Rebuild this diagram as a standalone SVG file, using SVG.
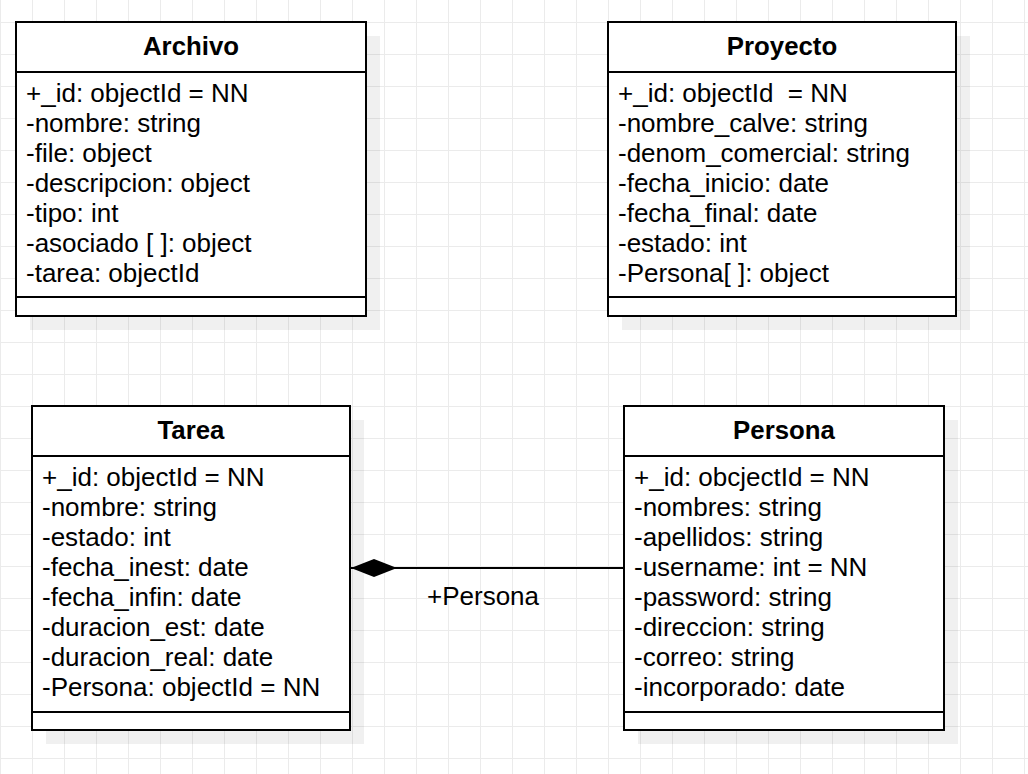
<svg xmlns="http://www.w3.org/2000/svg" width="1028" height="774" viewBox="0 0 1028 774">
<style>
.box{fill:#fff;stroke:#000;stroke-width:2}
.shadow{fill:#000;fill-opacity:0.06}
.div{stroke:#000;stroke-width:2;fill:none}
.title{font-family:"Liberation Sans",Arial,sans-serif;font-size:25.8px;font-weight:bold;text-anchor:middle;fill:#000}
.attr{font-family:"Liberation Sans",Arial,sans-serif;font-size:26px;fill:#000;white-space:pre}
.lbl{font-family:"Liberation Sans",Arial,sans-serif;font-size:26px;fill:#000}
.conn{stroke:#000;stroke-width:2;fill:none}
</style>
<defs>
<pattern id="grid" x="0" y="22" width="32" height="32" patternUnits="userSpaceOnUse">
<path d="M0.5 0V32M0 0.5H32" stroke="#ebebeb" stroke-width="1" fill="none"/>
</pattern>
<marker id="diamond" markerWidth="48" markerHeight="20" refX="47" refY="10" orient="auto" markerUnits="userSpaceOnUse">
<path d="M1 10L24 1L47 10L24 19Z" fill="#000"/>
</marker>
</defs>
<rect width="1028" height="774" fill="#fff"/>
<rect width="1028" height="774" fill="url(#grid)"/>

<g id="archivo">
<rect class="shadow" x="30" y="36" width="350" height="294"/>
<rect class="box" x="16" y="22" width="350" height="294"/>
<path class="div" d="M16 72H366M16 297H366"/>
<text class="title" x="191" y="55">Archivo</text>
<text class="attr" x="26" y="102">+_id: objectId = NN</text>
<text class="attr" x="26" y="132">-nombre: string</text>
<text class="attr" x="26" y="162">-file: object</text>
<text class="attr" x="26" y="192">-descripcion: object</text>
<text class="attr" x="26" y="222">-tipo: int</text>
<text class="attr" x="26" y="252">-asociado [ ]: object</text>
<text class="attr" x="26" y="282">-tarea: objectId</text>
</g>

<g id="proyecto">
<rect class="shadow" x="622" y="36" width="348" height="294"/>
<rect class="box" x="608" y="22" width="348" height="294"/>
<path class="div" d="M608 72H956M608 297H956"/>
<text class="title" x="782" y="55">Proyecto</text>
<text class="attr" x="618" y="102">+_id: objectId  = NN</text>
<text class="attr" x="618" y="132">-nombre_calve: string</text>
<text class="attr" x="618" y="162">-denom_comercial: string</text>
<text class="attr" x="618" y="192">-fecha_inicio: date</text>
<text class="attr" x="618" y="222">-fecha_final: date</text>
<text class="attr" x="618" y="252">-estado: int</text>
<text class="attr" x="618" y="282">-Persona[ ]: object</text>
</g>

<g id="tarea">
<rect class="shadow" x="46" y="420" width="318" height="324"/>
<rect class="box" x="32" y="406" width="318" height="324"/>
<path class="div" d="M32 456H350M32 712H350"/>
<text class="title" x="191" y="439">Tarea</text>
<text class="attr" x="42" y="486">+_id: objectId = NN</text>
<text class="attr" x="42" y="516">-nombre: string</text>
<text class="attr" x="42" y="546">-estado: int</text>
<text class="attr" x="42" y="576">-fecha_inest: date</text>
<text class="attr" x="42" y="606">-fecha_infin: date</text>
<text class="attr" x="42" y="636">-duracion_est: date</text>
<text class="attr" x="42" y="666">-duracion_real: date</text>
<text class="attr" x="42" y="696">-Persona: objectId = NN</text>
</g>

<g id="persona">
<rect class="shadow" x="638" y="420" width="320" height="324"/>
<rect class="box" x="624" y="406" width="320" height="324"/>
<path class="div" d="M624 456H944M624 712H944"/>
<text class="title" x="784" y="439">Persona</text>
<text class="attr" x="634" y="486">+_id: obcjectId = NN</text>
<text class="attr" x="634" y="516">-nombres: string</text>
<text class="attr" x="634" y="546">-apellidos: string</text>
<text class="attr" x="634" y="576">-username: int = NN</text>
<text class="attr" x="634" y="606">-password: string</text>
<text class="attr" x="634" y="636">-direccion: string</text>
<text class="attr" x="634" y="666">-correo: string</text>
<text class="attr" x="634" y="696">-incorporado: date</text>
</g>

<g id="connectors">
<path class="conn" d="M623 568H351" marker-end="url(#diamond)"/>
<text class="lbl" x="427" y="605">+Persona</text>
</g>
</svg>
